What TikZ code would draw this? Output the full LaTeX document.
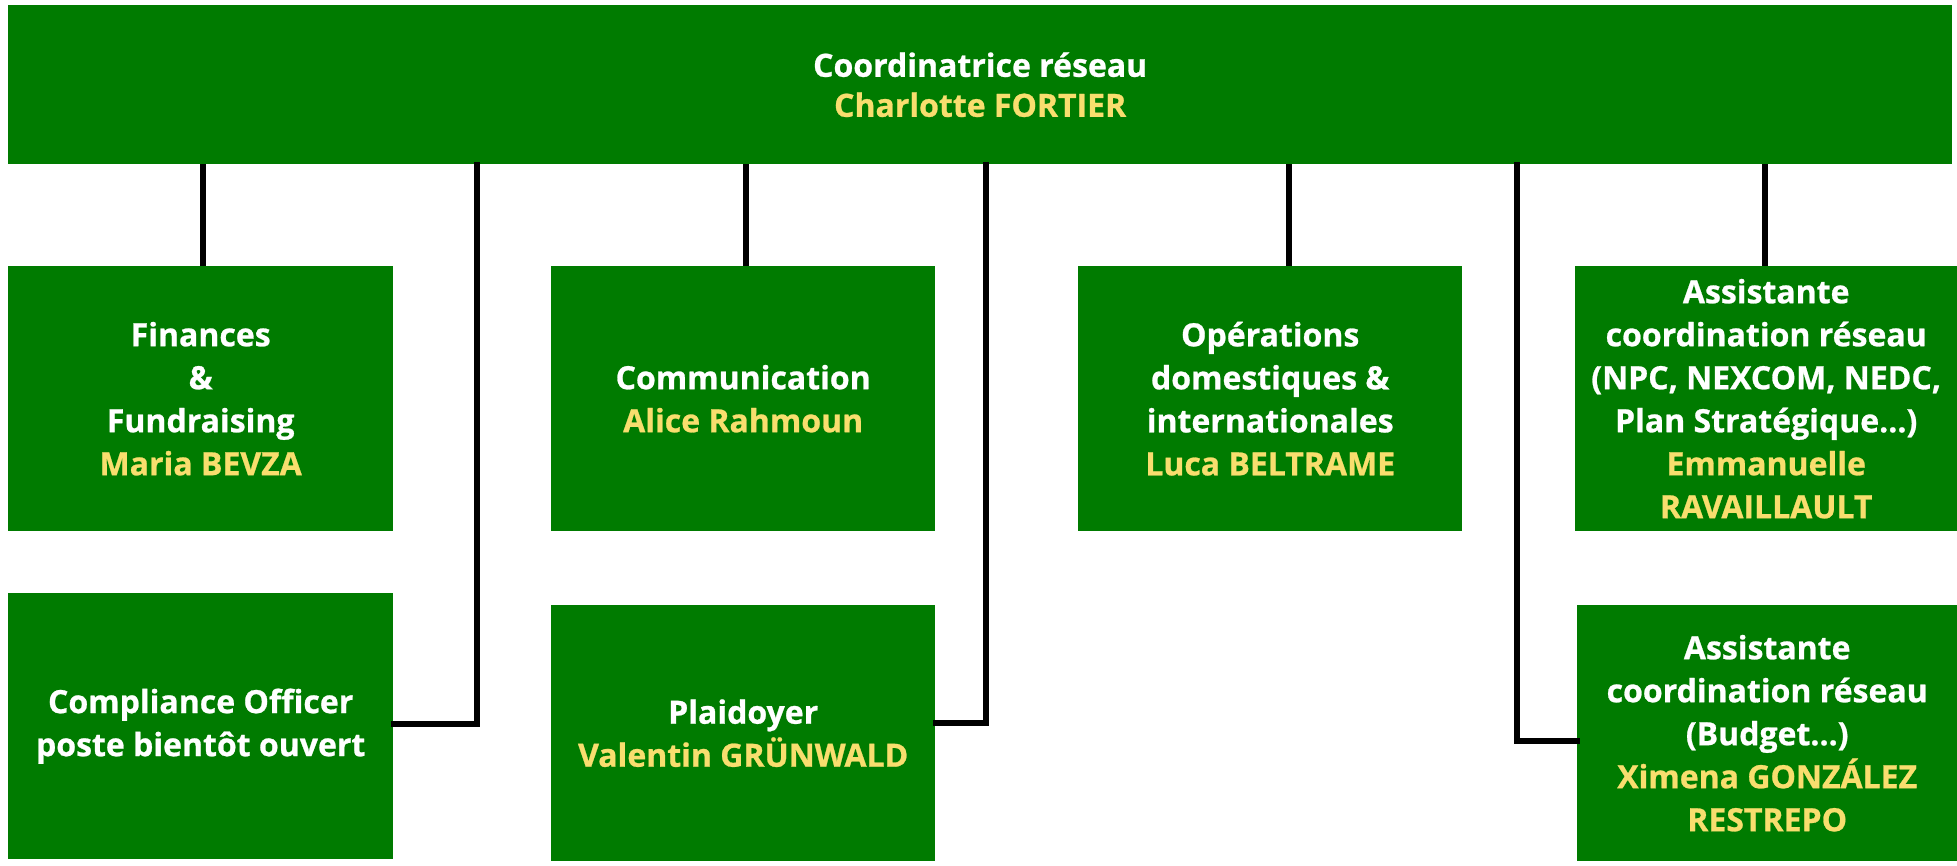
\documentclass[tikz,border=0pt]{standalone}
\usepackage{fontspec}
\setmainfont{Open Sans}[UprightFont=* Bold,UprightFeatures={FakeBold=0.8}]
\definecolor{boxgreen}{RGB}{0,123,0}
\definecolor{nameyellow}{RGB}{248,222,110}
\begin{document}
\begin{tikzpicture}[x=1pt,y=-1pt,
  box/.style={fill=boxgreen,draw=none,inner sep=0pt,align=center,text=white,
    font=\fontsize{32}{43}\selectfont},
  topbox/.style={box,font=\fontsize{32}{40}\selectfont},
  link/.style={draw=black,line width=5.5pt,line cap=rect}]
\useasboundingbox[fill=white] (0,0) rectangle (1957,865);
\newcommand{\nm}[1]{\textcolor{nameyellow}{#1}}
\node[topbox,minimum width=1944pt,minimum height=159pt,anchor=north west] (top) at (8,5)
  {Coordinatrice réseau\\\nm{Charlotte FORTIER}};
\node[box,minimum width=385pt,minimum height=265pt,anchor=north west] (fin) at (8,266)
  {Finances\\\&\\Fundraising\\\nm{Maria BEVZA}};
\node[box,minimum width=385pt,minimum height=266pt,anchor=north west] (comp) at (8,593)
  {Compliance Officer\\poste bientôt ouvert};
\node[box,minimum width=384pt,minimum height=265pt,anchor=north west] (com) at (551,266)
  {Communication\\\nm{Alice Rahmoun}};
\node[box,minimum width=384pt,minimum height=256pt,anchor=north west] (pla) at (551,605)
  {Plaidoyer\\\nm{Valentin GRÜNWALD}};
\node[box,minimum width=384pt,minimum height=265pt,anchor=north west] (ops) at (1078,266)
  {Opérations\\domestiques \&\\internationales\\\nm{Luca BELTRAME}};
\node[box,minimum width=382pt,minimum height=265pt,anchor=north west] (as1) at (1575,266)
  {Assistante\\coordination réseau\\(NPC, NEXCOM, NEDC,\\Plan Stratégique...)\\\nm{Emmanuelle}\\\nm{RAVAILLAULT}};
\node[box,minimum width=380pt,minimum height=256pt,anchor=north west] (as2) at (1577,605)
  {Assistante\\coordination réseau\\(Budget...)\\\nm{Ximena GONZÁLEZ}\\\nm{RESTREPO}};
% connectors
\coordinate (k1) at (203,266);
\coordinate (k2) at (477,724);
\coordinate (k3) at (746,266);
\coordinate (k4) at (986,723);
\coordinate (k5) at (1289,266);
\coordinate (k6) at (1517,741);
\coordinate (k7) at (1765,266);
\draw[link,line cap=butt] (k1 |- top.south) -- (k1 |- fin.north);
\draw[link] (k2 |- top.south) -- (k2) -- (k2 -| comp.east);
\draw[link,line cap=butt] (k3 |- top.south) -- (k3 |- com.north);
\draw[link] (k4 |- top.south) -- (k4) -- (k4 -| pla.east);
\draw[link,line cap=butt] (k5 |- top.south) -- (k5 |- ops.north);
\draw[link] (k6 |- top.south) -- (k6) -- (k6 -| as2.west);
\draw[link,line cap=butt] (k7 |- top.south) -- (k7 |- as1.north);
\end{tikzpicture}
\end{document}
